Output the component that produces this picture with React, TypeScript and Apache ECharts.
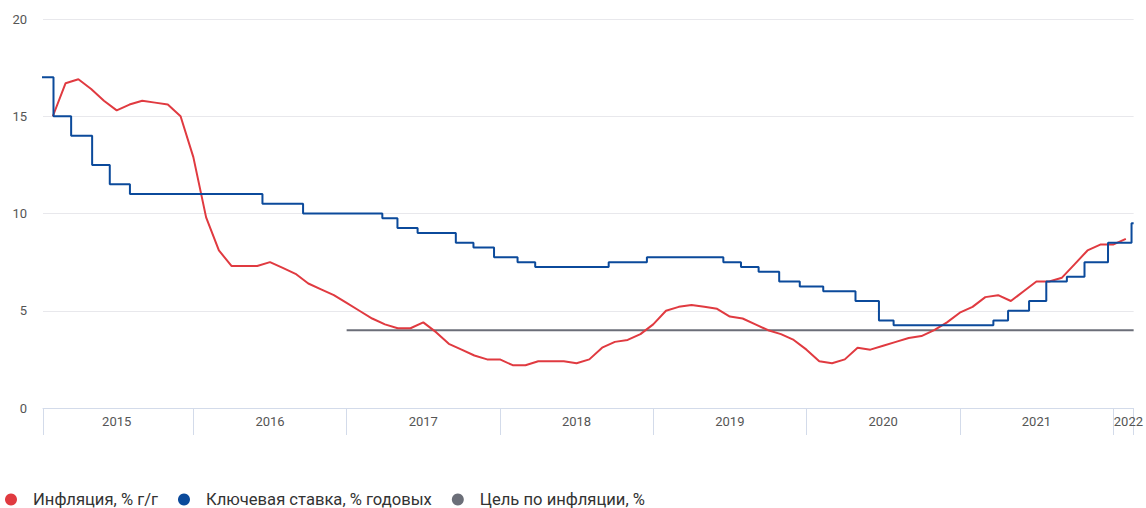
import React, { useEffect, useRef } from "react";
import * as echarts from "echarts";

// Monthly inflation, % y/y, from January 2015 to January 2022
const inflationStartYear = 2015;
const inflation2015 = [15.0, 16.7, 16.9, 16.4, 15.8, 15.3, 15.6, 15.8, 15.7, 15.6, 15.0, 12.9];
const inflation2016 = [9.8, 8.1, 7.3, 7.3, 7.3, 7.5, 7.2, 6.9, 6.4, 6.1, 5.8, 5.4];
const inflation2017 = [5.0, 4.6, 4.3, 4.1, 4.1, 4.4, 3.9, 3.3, 3.0, 2.7, 2.5, 2.5];
const inflation2018 = [2.2, 2.2, 2.4, 2.4, 2.4, 2.3, 2.5, 3.1, 3.4, 3.5, 3.8, 4.3];
const inflation2019 = [5.0, 5.2, 5.3, 5.2, 5.1, 4.7, 4.6, 4.3, 4.0, 3.8, 3.5, 3.0];
const inflation2020 = [2.4, 2.3, 2.5, 3.1, 3.0, 3.2, 3.4, 3.6, 3.7, 4.0, 4.4, 4.9];
const inflation2021 = [5.2, 5.7, 5.8, 5.5, 6.0, 6.5, 6.5, 6.7, 7.4, 8.1, 8.4, 8.4];
const inflation2022 = [8.7];
const inflationByYear = [
  inflation2015, inflation2016, inflation2017, inflation2018,
  inflation2019, inflation2020, inflation2021, inflation2022,
];

// Key rate, % per year: change dates and values
const keyRateDates = [
  "2014-12-16", "2015-02-02", "2015-03-16", "2015-05-05", "2015-06-16", "2015-08-03",
  "2016-06-14", "2016-09-19", "2017-03-27", "2017-05-02", "2017-06-19", "2017-09-18",
  "2017-10-30", "2017-12-18", "2018-02-12", "2018-03-26", "2018-09-17", "2018-12-17",
  "2019-06-17", "2019-07-29", "2019-09-09", "2019-10-28", "2019-12-16", "2020-02-10",
  "2020-04-27", "2020-06-22", "2020-07-27", "2021-03-22", "2021-04-26", "2021-06-15",
  "2021-07-26", "2021-09-13", "2021-10-25", "2021-12-20", "2022-02-14", "2022-02-19",
];
const keyRateValues = [
  17, 15, 14, 12.5, 11.5, 11,
  10.5, 10, 9.75, 9.25, 9, 8.5,
  8.25, 7.75, 7.5, 7.25, 7.5, 7.75,
  7.5, 7.25, 7, 6.5, 6.25, 6,
  5.5, 4.5, 4.25, 4.5, 5, 5.5,
  6.5, 6.75, 7.5, 8.5, 9.5, 9.5,
];

// Inflation target, %
const targetDates = ["2017-01-01", "2022-02-19"];
const targetValues = [4, 4];

// Axis
const axisStartDate = "2015-01-08";
const axisEndDate = "2022-02-19";
const yearTicks = [2016, 2017, 2018, 2019, 2020, 2021, 2022];
const yTicks = { min: 0, max: 20, interval: 5 };

const seriesNames = ["Инфляция, % г/г", "Ключевая ставка, % годовых", "Цель по инфляции, %"];
const colors = ["#e03a40", "#0b4a9b", "#6b6e78"];

function decYear(s: string): number {
  const [y, m, d] = s.split("-").map(Number);
  const start = Date.UTC(y, 0, 1);
  const end = Date.UTC(y + 1, 0, 1);
  return y + (Date.UTC(y, m - 1, d) - start) / (end - start);
}

export default function App() {
  const ref = useRef<HTMLDivElement>(null);
  useEffect(() => {
    if (!ref.current) return;
    const chart = echarts.init(ref.current, undefined, { renderer: "svg" });

    const inflationData: [number, number][] = [];
    inflationByYear.forEach((vals, yi) => {
      vals.forEach((v, mi) => {
        inflationData.push([inflationStartYear + yi + (mi + 1) / 12, v]);
      });
    });
    const keyRateData = keyRateDates.map((d, i) => [decYear(d), keyRateValues[i]]);
    const targetData = targetDates.map((d, i) => [decYear(d), targetValues[i]]);

    const xMin = decYear(axisStartDate);
    const xMax = decYear(axisEndDate);
    const tickVals = [xMin, ...yearTicks, xMax];
    const labelVals: number[] = [];
    for (let i = 0; i < tickVals.length - 1; i++) {
      const a = tickVals[i] < yearTicks[0] ? Math.floor(tickVals[i + 1]) - 1 : tickVals[i];
      labelVals.push(a + (tickVals[i + 1] - a) / 2);
    }
    labelVals[labelVals.length - 1] = yearTicks[yearTicks.length - 1] + 0.1;

    const font = "Roboto, 'Noto Sans', Arial, sans-serif";

    chart.setOption({
      animation: false,
      backgroundColor: "#ffffff",
      textStyle: { fontFamily: font },
      grid: { left: 43, right: 8, top: 19, bottom: 100, containLabel: false },
      legend: {
        left: 0,
        top: 486,
        icon: "circle",
        itemWidth: 20,
        itemHeight: 12,
        itemGap: 20,
        textStyle: { fontSize: 16.6, color: "#333333", fontFamily: font, padding: [0, 0, 0, 7] },
        data: seriesNames,
      },
      xAxis: {
        type: "value",
        min: xMin,
        max: xMax,
        axisLine: { show: true, lineStyle: { color: "#d3dbea", width: 1 } },
        axisTick: {
          show: true,
          length: 27,
          lineStyle: { color: "#d3dbea", width: 1 },
          customValues: tickVals,
        },
        axisLabel: {
          customValues: labelVals,
          formatter: (v: number) => String(Math.floor(v)),
          color: "#555555",
          fontSize: 13,
          margin: 7,
          fontFamily: font,
        },
        splitLine: { show: false },
      },
      yAxis: {
        type: "value",
        min: yTicks.min,
        max: yTicks.max,
        interval: yTicks.interval,
        axisLine: { show: false },
        axisTick: { show: false },
        axisLabel: { color: "#555555", fontSize: 13, margin: 16, fontFamily: font },
        splitLine: { show: true, lineStyle: { color: "#e8e8ec", width: 1 } },
      },
      series: [
        {
          name: seriesNames[0],
          type: "line",
          data: inflationData,
          showSymbol: false,
          symbol: "circle",
          lineStyle: { color: colors[0], width: 2 },
          itemStyle: { color: colors[0] },
          z: 3,
        },
        {
          name: seriesNames[1],
          type: "line",
          step: "end",
          data: keyRateData,
          showSymbol: false,
          symbol: "circle",
          lineStyle: { color: colors[1], width: 2 },
          itemStyle: { color: colors[1] },
          z: 4,
        },
        {
          name: seriesNames[2],
          type: "line",
          data: targetData,
          showSymbol: false,
          symbol: "circle",
          lineStyle: { color: colors[2], width: 2 },
          itemStyle: { color: colors[2] },
          z: 2,
        },
      ],
    });
    return () => chart.dispose();
  }, []);

  return (
    <div
      ref={ref}
      style={{ position: "fixed", left: 0, top: 0, width: 1146, height: 508, background: "#fff" }}
    />
  );
}
